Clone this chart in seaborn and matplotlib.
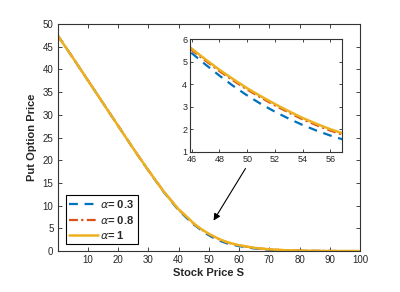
import pandas as pd
import seaborn as sns
import matplotlib.pyplot as plt

# Stock price grid and read-off put prices for the three alpha values
stock_price = [0, 5, 10, 15, 20, 25, 30, 35, 40, 43, 45, 46, 47, 48, 49, 50, 51, 52, 53, 54,
               55, 56, 57, 60, 65, 70, 75, 80, 85, 90, 95, 100]
put_a03 = [47.5, 42.6, 37.6, 32.6, 27.6, 22.6, 17.75, 13.1, 9.0, 7.1, 5.85, 5.38, 4.87, 4.38,
           3.92, 3.50, 3.12, 2.78, 2.47, 2.19, 1.94, 1.72, 1.53, 1.1, 0.58, 0.30, 0.15, 0.08,
           0.04, 0.02, 0.01, 0.005]
put_a08 = [47.5, 42.6, 37.6, 32.6, 27.6, 22.6, 17.8, 13.2, 9.15, 7.3, 6.02, 5.52, 5.04, 4.58,
           4.16, 3.76, 3.40, 3.06, 2.74, 2.44, 2.18, 1.94, 1.74, 1.25, 0.68, 0.37, 0.19, 0.10,
           0.05, 0.025, 0.012, 0.006]
put_a10 = [47.5, 42.6, 37.6, 32.6, 27.6, 22.6, 17.8, 13.2, 9.2, 7.4, 6.1, 5.58, 5.10, 4.64,
           4.22, 3.82, 3.46, 3.12, 2.80, 2.50, 2.24, 2.00, 1.80, 1.30, 0.72, 0.40, 0.21, 0.11,
           0.06, 0.03, 0.015, 0.008]
alpha_labels = ['0.3', '0.8', '1']

df = pd.DataFrame({'S': stock_price * 3,
                   'P': put_a03 + put_a08 + put_a10,
                   'alpha': sum([[a] * len(stock_price) for a in alpha_labels], [])})

sns.set_style('ticks')
plt.rcParams['font.family'] = ['Liberation Sans', 'DejaVu Sans']
plt.rcParams['xtick.direction'] = 'in'
plt.rcParams['ytick.direction'] = 'in'

colors = {'0.3': '#0072BD', '0.8': '#D95319', '1': '#EDB120'}
styles = {'0.3': (0, (4, 3)), '0.8': (0, (4, 1.5, 1, 1.5)), '1': '-'}
widths = {'0.3': 1.6, '0.8': 1.6, '1': 1.8}

fig = plt.figure(figsize=(4, 2.92), dpi=100)
ax = fig.add_axes([0.144, 0.140, 0.756, 0.778])
for a in alpha_labels:
    sub = df[df['alpha'] == a]
    sns.lineplot(data=sub, x='S', y='P', ax=ax, color=colors[a], linestyle=styles[a],
                 linewidth=widths[a], label=r'$\alpha$= ' + a)

ax.set_xlim(0, 100)
ax.set_ylim(0, 50)
ax.set_xticks(range(10, 101, 10))
ax.set_yticks(range(0, 51, 5))
ax.tick_params(labelsize=7, length=3, width=0.6, top=True, right=True, pad=3)
for sp in ax.spines.values():
    sp.set_linewidth(0.8)
    sp.set_color('#333333')
ax.set_xlabel('Stock Price S', fontsize=8, fontweight='bold', labelpad=2)
ax.set_ylabel('Put Option Price', fontsize=8, fontweight='bold', labelpad=4)

leg = ax.legend(loc='lower left', bbox_to_anchor=(0.02, 0.02), fontsize=8,
                prop={'weight': 'bold', 'size': 8}, handlelength=2.6, handletextpad=0.2,
                borderpad=0.3, labelspacing=0.3, fancybox=False, edgecolor='black',
                framealpha=1, borderaxespad=0.2)
leg.get_frame().set_linewidth(0.8)

ax.annotate('', xy=(51.1, 6.2), xytext=(62.6, 18.7),
            arrowprops=dict(arrowstyle='-|>', color='black', lw=0.8, mutation_scale=10))

# zoomed inset around S = 50
ins = fig.add_axes([0.475, 0.480, 0.379, 0.386])
for a in alpha_labels:
    sub = df[df['alpha'] == a]
    sns.lineplot(data=sub, x='S', y='P', ax=ins, color=colors[a], linestyle=styles[a],
                 linewidth=widths[a], legend=False)
ins.set_xlim(45.88, 56.8)
ins.set_ylim(1, 6)
ins.set_xticks(range(46, 57, 2))
ins.set_yticks(range(1, 7))
ins.set_xlabel('')
ins.set_ylabel('')
ins.tick_params(labelsize=6.5, length=2.5, width=0.6, top=True, right=True, pad=2)
for sp in ins.spines.values():
    sp.set_linewidth(0.8)
    sp.set_color('#333333')

plt.savefig('out.png', dpi=100)
